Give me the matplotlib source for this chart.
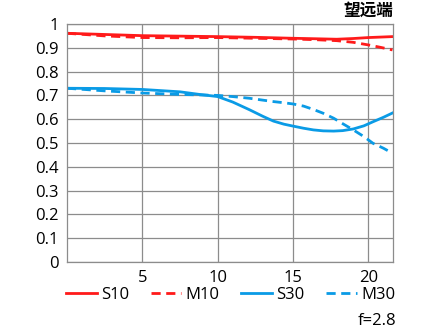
import numpy as np
import matplotlib
matplotlib.use("Agg")
import matplotlib.pyplot as plt

plt.rcParams['font.family'] = ['Open Sans', 'Noto Sans CJK SC', 'DejaVu Sans']

# image height (mm) vs MTF
x_red = [0, 2.5, 5, 7.5, 10, 12.5, 15, 16.5, 17.9, 19, 20, 20.8, 21.6]
s10 = [0.961, 0.956, 0.951, 0.949, 0.947, 0.944, 0.940, 0.938, 0.936, 0.939, 0.943, 0.945, 0.947]
m10 = [0.961, 0.950, 0.943, 0.942, 0.943, 0.940, 0.937, 0.934, 0.930, 0.923, 0.912, 0.902, 0.891]

x_blue = [0, 2.5, 5, 7.5, 8.8, 10, 11, 12.1, 13, 13.7, 14.4, 15, 15.7, 16.35, 17,
          17.7, 18.3, 19, 19.7, 20.3, 21, 21.6]
s30 = [0.730, 0.729, 0.725, 0.715, 0.704, 0.695, 0.672, 0.640, 0.612, 0.592, 0.579, 0.571,
       0.562, 0.555, 0.551, 0.550, 0.552, 0.559, 0.572, 0.589, 0.608, 0.626]
m30 = [0.730, 0.719, 0.710, 0.704, 0.702, 0.700, 0.695, 0.688, 0.680, 0.674, 0.669, 0.664,
       0.655, 0.641, 0.625, 0.604, 0.581, 0.555, 0.527, 0.499, 0.478, 0.457]

red = '#ff1a1a'
blue = '#0a9be6'
dash = (0, (3.3, 2.0))

fig = plt.figure(figsize=(4.30, 3.31), dpi=100)
ax = fig.add_axes([0.1558, 0.2085, 0.758, 0.719])

ax.plot(x_red, s10, color=red, lw=2.0, ls='-', label='S10')
ax.plot(x_red, m10, color=red, lw=2.0, ls=dash, label='M10')
ax.plot(x_blue, s30, color=blue, lw=2.0, ls='-', label='S30')
ax.plot(x_blue, m30, color=blue, lw=2.0, ls=dash, label='M30')

ax.set_xlim(0, 21.63)
ax.set_ylim(0, 1)
ax.set_xticks([5, 10, 15, 20])
ax.set_yticks(np.arange(0, 1.01, 0.1))
ax.set_yticklabels(['0', '0.1', '0.2', '0.3', '0.4', '0.5', '0.6', '0.7', '0.8', '0.9', '1'])
ax.tick_params(length=0, labelsize=12, pad=6)
ax.grid(True, color='#8c8c8c', lw=0.9)
for s in ax.spines.values():
    s.set_color('#8c8c8c')
    s.set_linewidth(0.9)

fig.text(0.914, 0.953, '望远端', ha='right', va='baseline', fontsize=12, fontweight='bold',
         family=['Noto Sans CJK SC', 'DejaVu Sans'])
fig.text(0.921, 0.005, 'f=2.8', ha='right', va='bottom', fontsize=12)

fig.legend(loc='center', bbox_to_anchor=(0.536, 0.109), ncol=4, frameon=False,
           fontsize=12, handlelength=1.85, handletextpad=0.25, columnspacing=1.3,
           borderpad=0, borderaxespad=0)

fig.savefig('out.png', dpi=100)
